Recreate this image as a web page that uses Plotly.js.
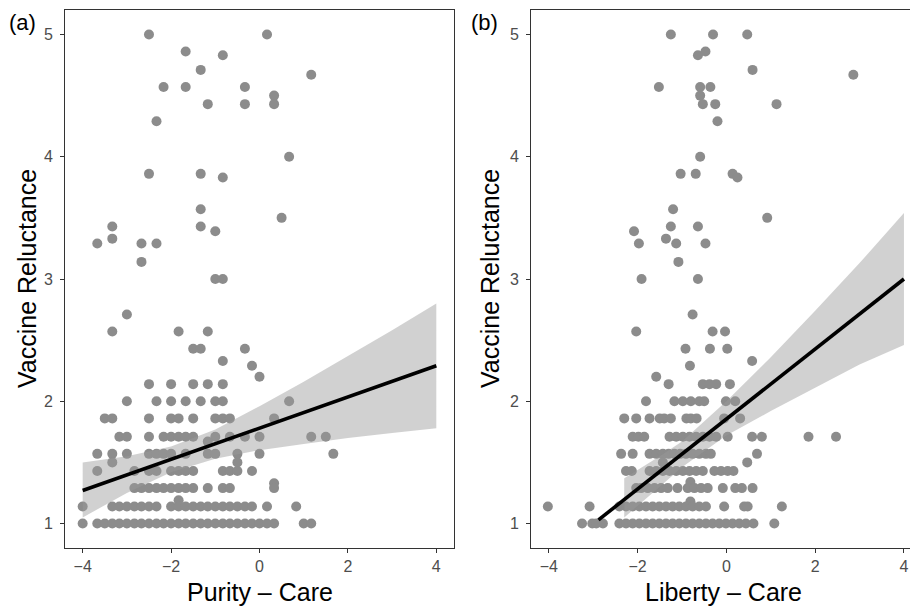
<!DOCTYPE html>
<html>
<head>
<meta charset="utf-8">
<script src="https://cdn.plot.ly/plotly-3.0.1.min.js"></script>
<style>html,body{margin:0;padding:0;background:#fff;}#chart{width:910px;height:608px;}</style>
</head>
<body>
<div id="chart"></div>
<script>
// ---------- Panel (a): Purity – Care ----------
const purityX = [
  -2.5, 0.17, -1.67, -0.83, -1.33, 1.17, -2.17, -1.67, -0.33, 0.33, -1.17, -0.33, 0.33, -2.33, 0.67,
  -2.5, -1.33, -0.83, -1.33, 0.5, -3.33, -1.33, -1.0, -3.33, -3.67, -2.67, -2.33, -2.67, -1.0, -0.83,
  -3.0, -3.33, -1.83, -1.17, -1.5, -1.33, -0.33, -0.83, -0.17, 0,
  -2.5, -2.0, -1.5, -1.17, -0.83,
  -3.0, -2.33, -2.0, -1.67, -1.33, -1.0, -0.83, 0.67,
  -3.5, -3.33, -2.5, -2.0, -1.83, -1.5, -1.0, -0.83, -0.67, 0.33,
  -3.17, -3.0, -2.5, -2.17, -2.0, -1.83, -1.67, -1.5, -1.0, -0.67, -0.33, 0, 1.17, 1.5,
  -1.17,
  -3.67, -3.33, -3.0, -2.5, -2.33, -2.17, -2.0, -1.67, -1.17, -1.0, -0.5, 0, 1.67,
  -3.33, -0.5,
  -3.67, -2.83, -2.5, -2.33, -2.0, -1.83, -1.67, -1.5, -0.83, -0.67, -0.5, -0.17,
  0.33,
  -2.83, -2.67, -2.5, -2.33, -2.17, -2.0, -1.83, -1.67, -1.5, -1.17, -0.83, -0.67, 0.33,
  -1.83,
  -4.0, -3.33, -3.17, -3.0, -2.83, -2.67, -2.5, -2.33, -2.0, -1.83, -1.67, -1.5, -1.33, -1.17, -1.0, -0.83, -0.67, -0.5, -0.33, -0.17, 0.17, 0.83,
  -4.0, -3.67, -3.5, -3.33, -3.17, -3.0, -2.83, -2.67, -2.5, -2.33, -2.17, -2.0, -1.83, -1.67, -1.5, -1.33, -1.17, -1.0, -0.83, -0.67, -0.5, -0.33, -0.17, 0, 0.17, 0.33, 1.0, 1.17
];
const purityY = [
  5, 5, 4.86, 4.83, 4.71, 4.67, 4.57, 4.57, 4.57, 4.5, 4.43, 4.43, 4.43, 4.29, 4.0,
  3.86, 3.86, 3.83, 3.57, 3.5, 3.43, 3.43, 3.39, 3.33, 3.29, 3.29, 3.29, 3.14, 3.0, 3.0,
  2.71, 2.57, 2.57, 2.57, 2.43, 2.43, 2.43, 2.33, 2.29, 2.2,
  2.14, 2.14, 2.14, 2.14, 2.14,
  2, 2, 2, 2, 2, 2, 2, 2,
  1.86, 1.86, 1.86, 1.86, 1.86, 1.86, 1.86, 1.86, 1.86, 1.86,
  1.71, 1.71, 1.71, 1.71, 1.71, 1.71, 1.71, 1.71, 1.71, 1.71, 1.71, 1.71, 1.71, 1.71,
  1.67,
  1.57, 1.57, 1.57, 1.57, 1.57, 1.57, 1.57, 1.57, 1.57, 1.57, 1.57, 1.57, 1.57,
  1.5, 1.5,
  1.43, 1.43, 1.43, 1.43, 1.43, 1.43, 1.43, 1.43, 1.43, 1.43, 1.43, 1.43,
  1.33,
  1.29, 1.29, 1.29, 1.29, 1.29, 1.29, 1.29, 1.29, 1.29, 1.29, 1.29, 1.29, 1.29,
  1.19,
  1.14, 1.14, 1.14, 1.14, 1.14, 1.14, 1.14, 1.14, 1.14, 1.14, 1.14, 1.14, 1.14, 1.14, 1.14, 1.14, 1.14, 1.14, 1.14, 1.14, 1.14, 1.14,
  1, 1, 1, 1, 1, 1, 1, 1, 1, 1, 1, 1, 1, 1, 1, 1, 1, 1, 1, 1, 1, 1, 1, 1, 1, 1, 1, 1
];
const purityFitX = [-4, 4];
const purityFitY = [1.27, 2.29];
const purityBandX = [-4, -3, -2, -1, 0, 1, 2, 3, 4];
const purityBandHi = [1.50, 1.55, 1.63, 1.77, 1.96, 2.16, 2.37, 2.58, 2.80];
const purityBandLo = [1.05, 1.25, 1.42, 1.53, 1.60, 1.65, 1.70, 1.74, 1.78];

// ---------- Panel (b): Liberty – Care ----------
const libertyX = [
  -1.25, -0.3, 0.47, -0.64, -0.47, 0.59, 2.86, -1.52, -0.59, -0.36, -0.59, -0.53, -0.25, 1.13, -0.2,
  -0.59, -1.03, -0.69, 0.14, 0.25, -1.2, 0.92, -2.08, -1.25, -0.64, -1.36, -1.97, -1.13, -0.47, -1.08, -1.91, -0.64,
  -0.76, -2.03, -0.31, -0.03, -0.92, -0.37, 0.02, 0.58, -0.82, -1.58,
  -1.3, -0.53, -0.38, -0.23, 0.08,
  -1.81, -1.17, -0.98, -0.8, -0.61, -0.5, -0.01, 0.2,
  -2.3, -2.03, -1.73, -1.5, -1.4, -1.25, -0.9, -0.8, -0.67, -0.05, 0.31,
  -2.11, -1.98, -1.85, -1.28, -1.13, -0.98, -0.83, -0.68, -0.53, -0.38, -0.23, 0.03, 0.58, 0.8, 1.85, 2.47,
  -2.37, -2.11, -1.73, -1.58, -1.43, -1.3, -1.17, -1.04, -0.91, -0.76, -0.61, -0.46, -0.35, 0.69,
  -1.43, 0.47,
  -2.26, -2.13, -1.73, -1.58, -1.43, -1.28, -1.13, -0.98, -0.83, -0.68, -0.53, -0.27, -0.12, 0.03, 0.16,
  -0.81,
  -2.03, -1.92, -1.77, -1.62, -1.47, -1.32, -1.1, -0.87, -0.72, -0.57, -0.42, -0.08, 0.2, 0.35, 0.59,
  -0.81,
  -4.02, -3.08, -2.41, -2.26, -2.11, -1.96, -1.81, -1.66, -1.51, -1.36, -1.21, -1.06, -0.91, -0.76, -0.61, -0.46, -0.05, 0.4, 0.48, 1.25,
  -3.25, -3.02, -2.93, -2.78, -2.41, -2.26, -2.11, -1.96, -1.81, -1.66, -1.51, -1.36, -1.21, -1.06, -0.91, -0.76, -0.61, -0.46, -0.31, -0.16, -0.01, 0.14, 0.29, 0.44, 0.61, 1.08
];
const libertyY = [
  5, 5, 5, 4.83, 4.86, 4.71, 4.67, 4.57, 4.57, 4.57, 4.5, 4.43, 4.43, 4.43, 4.29,
  4.0, 3.86, 3.86, 3.86, 3.83, 3.57, 3.5, 3.39, 3.43, 3.43, 3.33, 3.29, 3.29, 3.29, 3.14, 3.0, 3.0,
  2.71, 2.57, 2.57, 2.57, 2.43, 2.43, 2.43, 2.33, 2.29, 2.2,
  2.14, 2.14, 2.14, 2.14, 2.14,
  2, 2, 2, 2, 2, 2, 2, 2,
  1.86, 1.86, 1.86, 1.86, 1.86, 1.86, 1.86, 1.86, 1.86, 1.86, 1.86,
  1.71, 1.71, 1.71, 1.71, 1.71, 1.71, 1.71, 1.71, 1.71, 1.71, 1.71, 1.71, 1.71, 1.71, 1.71, 1.71,
  1.57, 1.57, 1.57, 1.57, 1.57, 1.57, 1.57, 1.57, 1.57, 1.57, 1.57, 1.57, 1.57, 1.57,
  1.5, 1.5,
  1.43, 1.43, 1.43, 1.43, 1.43, 1.43, 1.43, 1.43, 1.43, 1.43, 1.43, 1.43, 1.43, 1.43, 1.43,
  1.34,
  1.29, 1.29, 1.29, 1.29, 1.29, 1.29, 1.29, 1.29, 1.29, 1.29, 1.29, 1.29, 1.29, 1.29, 1.29,
  1.18,
  1.14, 1.14, 1.14, 1.14, 1.14, 1.14, 1.14, 1.14, 1.14, 1.14, 1.14, 1.14, 1.14, 1.14, 1.14, 1.14, 1.14, 1.14, 1.14, 1.14,
  1, 1, 1, 1, 1, 1, 1, 1, 1, 1, 1, 1, 1, 1, 1, 1, 1, 1, 1, 1, 1, 1, 1, 1, 1, 1
];
const libertyFitX = [-2.88, 4];
const libertyFitY = [1.03, 3.0];
const libertyBandX = [-2.3, -1.5, -1, 0, 1, 2, 3, 4];
const libertyBandHi = [1.37, 1.55, 1.67, 2.0, 2.36, 2.74, 3.13, 3.54];
const libertyBandLo = [1.05, 1.30, 1.46, 1.72, 1.92, 2.11, 2.30, 2.46];

const xTickVals = [-4, -2, 0, 2, 4];
const yTickVals = [1, 2, 3, 4, 5];

// ---------- styling ----------
const FONT = 'Liberation Sans, Arial, Helvetica, sans-serif';
const pointColor = '#8c8c8c';
const bandColor = 'rgba(153,153,153,0.45)';

function polygon(xs, hi, lo) {
  return {
    x: xs.concat(xs.slice().reverse()),
    y: hi.concat(lo.slice().reverse())
  };
}
const bandA = polygon(purityBandX, purityBandHi, purityBandLo);
const bandB = polygon(libertyBandX, libertyBandHi, libertyBandLo);

const traces = [
  {x: purityX, y: purityY, type: 'scatter', mode: 'markers', xaxis: 'x', yaxis: 'y',
   marker: {color: pointColor, size: 10, line: {width: 0}}, hoverinfo: 'skip'},
  {x: bandA.x, y: bandA.y, type: 'scatter', mode: 'lines', fill: 'toself', xaxis: 'x', yaxis: 'y',
   fillcolor: bandColor, line: {width: 0, color: 'rgba(0,0,0,0)'}, hoverinfo: 'skip'},
  {x: purityFitX, y: purityFitY, type: 'scatter', mode: 'lines', xaxis: 'x', yaxis: 'y',
   line: {color: '#000000', width: 3.6}, hoverinfo: 'skip'},
  {x: libertyX, y: libertyY, type: 'scatter', mode: 'markers', xaxis: 'x2', yaxis: 'y2',
   marker: {color: pointColor, size: 10, line: {width: 0}}, hoverinfo: 'skip'},
  {x: bandB.x, y: bandB.y, type: 'scatter', mode: 'lines', fill: 'toself', xaxis: 'x2', yaxis: 'y2',
   fillcolor: bandColor, line: {width: 0, color: 'rgba(0,0,0,0)'}, hoverinfo: 'skip'},
  {x: libertyFitX, y: libertyFitY, type: 'scatter', mode: 'lines', xaxis: 'x2', yaxis: 'y2',
   line: {color: '#000000', width: 3.6}, hoverinfo: 'skip'}
];

const W = 910, H = 608;
const yDom = [1 - 548 / H, 1 - 10 / H];
const axisCommon = {
  showgrid: false, zeroline: false, showline: true, linecolor: '#333333', linewidth: 1,
  ticks: 'outside', ticklen: 4, tickwidth: 1, tickcolor: '#333333',
  tickfont: {family: FONT, size: 16, color: '#4d4d4d'}, fixedrange: true
};

const layout = {
  width: W, height: H,
  margin: {l: 0, r: 0, t: 0, b: 0, pad: 0},
  paper_bgcolor: '#ffffff', plot_bgcolor: '#ffffff',
  showlegend: false,
  xaxis: Object.assign({}, axisCommon, {domain: [65 / W, 454 / W], range: [-4.4, 4.4], tickvals: xTickVals, mirror: true, anchor: 'y'}),
  yaxis: Object.assign({}, axisCommon, {domain: yDom, range: [0.8, 5.2], tickvals: yTickVals, mirror: true, anchor: 'x', ticklabelstandoff: 4}),
  xaxis2: Object.assign({}, axisCommon, {domain: [531 / W, 1], range: [-4.4, 4.136], tickvals: xTickVals, mirror: true, anchor: 'y2'}),
  yaxis2: Object.assign({}, axisCommon, {domain: yDom, range: [0.8, 5.2], tickvals: yTickVals, mirror: false, anchor: 'x2', ticklabelstandoff: 4}),
  annotations: [
    {text: '(a)', xref: 'paper', yref: 'paper', x: 7 / W, y: 1 - 8 / H, xanchor: 'left', yanchor: 'top', showarrow: false,
     font: {family: FONT, size: 22, color: '#000'}},
    {text: '(b)', xref: 'paper', yref: 'paper', x: 469 / W, y: 1 - 8 / H, xanchor: 'left', yanchor: 'top', showarrow: false,
     font: {family: FONT, size: 22, color: '#000'}},
    {text: 'Vaccine Reluctance', xref: 'paper', yref: 'paper', x: 27 / W, y: 1 - 279 / H, xanchor: 'center', yanchor: 'middle',
     textangle: -90, showarrow: false, font: {family: FONT, size: 25, color: '#000'}},
    {text: 'Vaccine Reluctance', xref: 'paper', yref: 'paper', x: 490 / W, y: 1 - 279 / H, xanchor: 'center', yanchor: 'middle',
     textangle: -90, showarrow: false, font: {family: FONT, size: 25, color: '#000'}},
    {text: 'Purity – Care', xref: 'paper', yref: 'paper', x: 260 / W, y: 1 - 592 / H, xanchor: 'center', yanchor: 'middle',
     showarrow: false, font: {family: FONT, size: 25, color: '#000'}},
    {text: 'Liberty – Care', xref: 'paper', yref: 'paper', x: 723 / W, y: 1 - 592 / H, xanchor: 'center', yanchor: 'middle',
     showarrow: false, font: {family: FONT, size: 25, color: '#000'}}
  ]
};

Plotly.newPlot('chart', traces, layout, {staticPlot: true, displayModeBar: false});
</script>
</body>
</html>
